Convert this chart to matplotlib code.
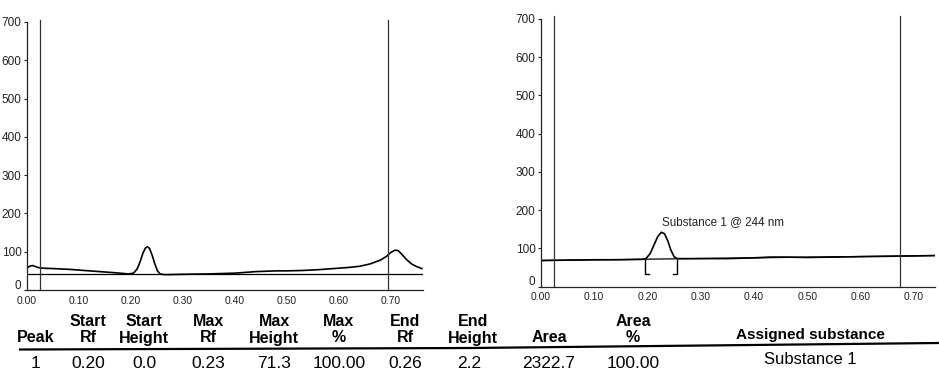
import matplotlib
matplotlib.use('Agg')
import matplotlib.pyplot as plt
import matplotlib.transforms as mtransforms

plt.rcParams['font.family'] = ['Liberation Sans', 'DejaVu Sans']

# track 1 (left scan): Rf vs AU
left_rf = [0.000, 0.005, 0.010, 0.015, 0.020, 0.030, 0.050, 0.080, 0.110, 0.140,
           0.170, 0.195, 0.205, 0.212, 0.218, 0.223, 0.228, 0.232, 0.236, 0.241,
           0.246, 0.251, 0.256, 0.265, 0.300, 0.350, 0.400, 0.420, 0.440, 0.460,
           0.480, 0.500, 0.530, 0.560, 0.590, 0.620, 0.640, 0.660, 0.680, 0.692,
           0.700, 0.708, 0.714, 0.720, 0.730, 0.740, 0.750, 0.760]
left_au = [58, 62, 64, 62, 59, 57, 56, 54, 51, 48,
           45, 42, 44, 55, 75, 96, 110, 113, 108, 90,
           68, 50, 42, 40, 41, 42, 44, 46, 48, 49,
           50, 50, 51, 53, 56, 59, 62, 68, 78, 88,
           98, 104, 103, 95, 80, 68, 61, 56]
left_base = 42
left_marks = [0.025, 0.694]

# track 2 (right scan)
right_rf = [0.000, 0.050, 0.100, 0.150, 0.190, 0.197, 0.205, 0.212, 0.219, 0.226,
            0.232, 0.238, 0.244, 0.250, 0.256, 0.300, 0.350, 0.400, 0.430, 0.460,
            0.500, 0.550, 0.600, 0.650, 0.700, 0.740]
right_au = [68, 69, 70, 70, 71, 73, 86, 108, 130, 142,
            138, 120, 95, 78, 73, 73, 73, 75, 77, 77,
            76, 77, 78, 79, 80, 81]
right_base = [68, 81]
right_marks = [0.025, 0.675]
peak_start, peak_end = 0.195, 0.255
peak_label = 'Substance 1 @ 244 nm'

yticks = [0, 100, 200, 300, 400, 500, 600, 700]
xticks = [0.0, 0.1, 0.2, 0.3, 0.4, 0.5, 0.6, 0.7]

# result table
head1 = ['', 'Start', 'Start', 'Max', 'Max', 'Max', 'End', 'End', '', 'Area', '']
head2 = ['Peak', 'Rf', 'Height', 'Rf', 'Height', '%', 'Rf', 'Height', 'Area', '%',
         'Assigned substance']
row1 = ['1', '0.20', '0.0', '0.23', '71.3', '100.00', '0.26', '2.2', '2322.7', '100.00',
        'Substance 1']

W, H = 939, 373
fig = plt.figure(figsize=(W / 100, H / 100), dpi=100)
fig.patch.set_facecolor('white')


def px_axes(x0, x1, y0, y1):
    # pixel box (left, right, bottom y, top y) -> figure axes
    return fig.add_axes([x0 / W, 1 - y0 / H, (x1 - x0) / W, (y0 - y1) / H])


def style(ax, xmax):
    ax.set_xlim(0, xmax)
    ax.set_ylim(0, 700)
    ax.spines['top'].set_visible(False)
    ax.spines['right'].set_visible(False)
    for s in ['left', 'bottom']:
        ax.spines[s].set_linewidth(0.9)
        ax.spines[s].set_color('#222222')
    ax.set_yticks(yticks)
    ax.set_yticklabels([str(v) for v in yticks])
    ax.set_xticks(xticks)
    ax.set_xticklabels([f'{v:.2f}' for v in xticks])
    ax.tick_params(axis='y', length=2.5, width=0.8, pad=1.5, labelsize=8.5, colors='#222222')
    ax.tick_params(axis='x', length=0, pad=4, labelsize=7.5, colors='#222222')
    ax.patch.set_alpha(0)
    # the "0" sits just above "0.00" as in the printout
    lab0 = ax.get_yticklabels()[0]
    lab0.set_transform(lab0.get_transform()
                       + mtransforms.ScaledTranslation(0, 4 / 72, fig.dpi_scale_trans))


ax1 = px_axes(27, 423, 290, 22)
style(ax1, 0.762)
ax1.plot(left_rf, left_au, color='black', lw=1.2)
ax1.axhline(left_base, color='black', lw=0.9)
for m in left_marks:
    ax1.plot([m, m], [0, 705], color='#333333', lw=0.9, clip_on=False)

ax2 = px_axes(541, 935, 286.5, 19)
style(ax2, 0.74)
ax2.plot([0, 0.74], right_base, color='black', lw=0.9)
ax2.plot(right_rf, right_au, color='black', lw=1.2)
for m in right_marks:
    ax2.plot([m, m], [0, 708], color='#333333', lw=0.9, clip_on=False)
# integration brackets
lo = 33
b0 = right_base[0]
ax2.plot([peak_start + 0.008, peak_start, peak_start], [lo, lo, b0 + 2], color='black', lw=1.0)
ax2.plot([peak_end - 0.008, peak_end, peak_end], [lo, lo, b0 + 2], color='black', lw=1.0)
ax2.text(peak_start + 0.033, 152, peak_label, fontsize=8.4, ha='left', va='bottom', color='#222222')

# table
col_x = [36, 88, 144, 208, 274, 339, 405, 473, 549, 633, 810]
val_x = [36, 88, 144, 208, 274, 339, 405, 469, 549, 633, 810]
for x, xv, a, b, v in zip(col_x, val_x, head1, head2, row1):
    if b == 'Assigned substance':
        fig.text(x / W, 1 - 335 / H, b, fontsize=11, fontweight='bold', ha='center', va='center')
        fig.text(xv / W, 1 - 360 / H, v, fontsize=12, ha='center', va='center')
        continue
    if a:
        fig.text(x / W, 1 - 321 / H, a, fontsize=11.5, fontweight='bold', ha='center', va='center')
    fig.text(x / W, 1 - 338 / H, b, fontsize=11.5, fontweight='bold', ha='center', va='center')
    fig.text(xv / W, 1 - 364 / H, v, fontsize=12.5, ha='center', va='center')

fig.add_artist(plt.Line2D([20 / W, 470 / W, 939 / W],
                          [1 - 349.5 / H, 1 - 348 / H, 1 - 343 / H],
                          transform=fig.transFigure, color='black', lw=1.6))

fig.savefig('out.png', dpi=100)
